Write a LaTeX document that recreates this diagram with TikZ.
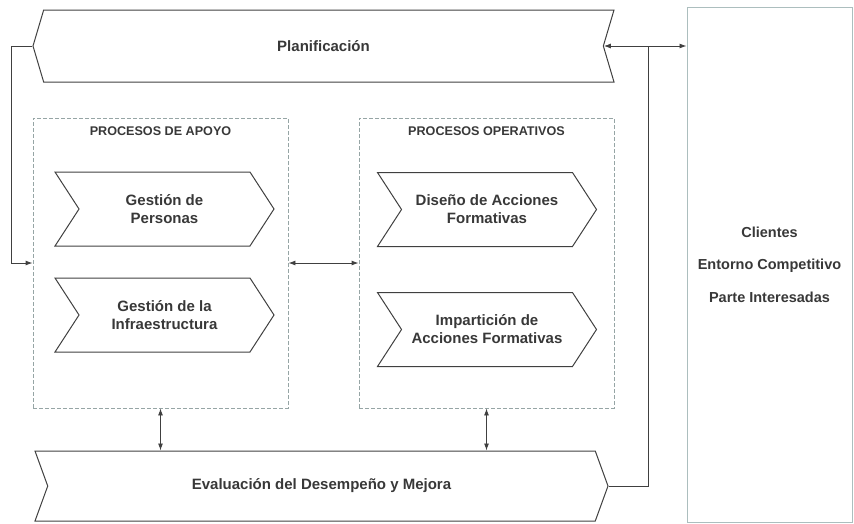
\documentclass[tikz,border=0pt]{standalone}
\usepackage{fontspec}
\setmainfont{Liberation Sans}
\usetikzlibrary{arrows.meta,positioning,calc,shapes.symbols}
\definecolor{cliline}{RGB}{172,190,190}
\definecolor{grpline}{RGB}{150,165,165}

\begin{document}
\begin{tikzpicture}[x=1pt,y=-1pt,>={Latex[length=7pt,width=5pt]},
  every node/.style={font=\bfseries\fontsize{15}{18}\selectfont, text=black!78},
  chev/.style={draw=black!75, line width=1pt, signal, signal to=east, signal from=west,
    signal pointer angle=114, minimum width=219pt, minimum height=74pt, align=center, inner sep=0pt},
  band/.style={draw=black!75, line width=1pt, signal, minimum height=72pt, inner sep=0pt},
  group/.style={draw=grpline, dash pattern=on 4pt off 2pt, line width=0.9pt,
    minimum width=255pt, minimum height=290pt},
  grouptitle/.style={font=\bfseries\fontsize{12.6}{15}\selectfont},
  link/.style={draw=black!75, line width=0.9pt}]
\useasboundingbox (0,0) rectangle (854,523);

% bands
\node[band, signal to=west, signal from=east, signal pointer angle=147, minimum width=581pt] (plan) at (323.5,46) {Planificación};
\node[band, signal to=east, signal from=west, signal pointer angle=140, minimum width=573pt, minimum height=70pt] (eval) at (321.5,486) {Evaluación del Desempeño y Mejora};

% process groups
\node[group] (apoyo) at (160.5,263) {};
\node[group] (oper) at (486.5,263) {};
\node[grouptitle, below=6pt of apoyo.north] (tapoyo) {PROCESOS DE APOYO};
\node[grouptitle, below=6pt of oper.north] (toper) {PROCESOS OPERATIVOS};

\node[chev] (pers) at (164.5,209) {Gestión de\\Personas};
\node[chev] (infra) at (164.5,315) {Gestión de la\\Infraestructura};
\node[chev] (dis) at (487,209.5) {Diseño de Acciones\\Formativas};
\node[chev] (imp) at (487,329.5) {Impartición de\\Acciones Formativas};

% environment
\node[draw=cliline, line width=1pt, minimum width=165pt, minimum height=515pt, align=center,
  font=\bfseries\fontsize{14.5}{32.5}\selectfont] (cli) at (769.5,264.5) {Clientes\\Entorno Competitivo\\Parte Interesadas};

% connectors
\coordinate (jn) at ($(plan.east)+(45,0)$);
\draw[link,<->] (plan.east) -- (plan.east -| cli.west);
\draw[link] (eval.east) -| (jn);
\draw[link,->] (plan.west) -- ++(-21,0) |- (apoyo.west);
\draw[link,<->] (apoyo.east) -- (oper.west);
\draw[link,<->] (apoyo.south) -- (apoyo.south |- eval.north);
\draw[link,<->] (oper.south) -- (oper.south |- eval.north);
\end{tikzpicture}
\end{document}
